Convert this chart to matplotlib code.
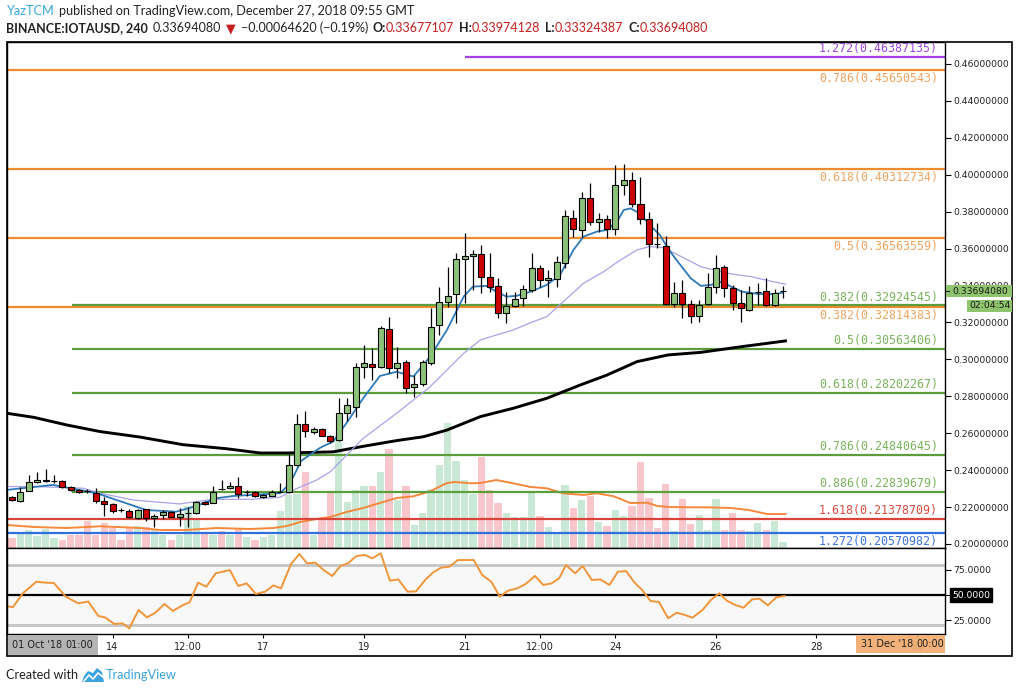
import numpy as np
import matplotlib.pyplot as plt
from matplotlib.patches import Rectangle, Polygon

# IOTAUSD 4h candles, index k -> Dec 12 00:00 + k*4h (x axis in days = k/6)
opens = [0.2253, 0.2235, 0.2287, 0.2334, 0.2343, 0.2341, 0.2343, 0.2309, 0.2293, 0.2289,
         0.2275, 0.2233, 0.2215, 0.2184, 0.2180, 0.2141, 0.2188, 0.2139, 0.2157, 0.2175,
         0.2146, 0.2166, 0.2166, 0.2226, 0.2224, 0.2298, 0.2302, 0.2314, 0.2280, 0.2280,
         0.2253, 0.2262, 0.2283, 0.2283, 0.2428, 0.2648, 0.2605, 0.2621, 0.2585, 0.2563,
         0.2708, 0.2744, 0.2957, 0.2973, 0.2961, 0.3163, 0.2952, 0.2988, 0.2849, 0.2865,
         0.2979, 0.3186, 0.3313, 0.3354, 0.3542, 0.3560, 0.3571, 0.3448, 0.3397, 0.3250,
         0.3289, 0.3330, 0.3376, 0.3493, 0.3430, 0.3437, 0.3520, 0.3764, 0.3700, 0.3873,
         0.3746, 0.3759, 0.3705, 0.3945, 0.3972, 0.3840, 0.3759, 0.3627, 0.3616, 0.3300,
         0.3362, 0.3300, 0.3235, 0.3300, 0.3390, 0.3499, 0.3385, 0.3307, 0.3268, 0.3365,
         0.3372, 0.3295, 0.3368]
highs = [0.2258, 0.2307, 0.2374, 0.2392, 0.2404, 0.2374, 0.2345, 0.2315, 0.2296, 0.2300,
         0.2302, 0.2256, 0.2222, 0.2195, 0.2190, 0.2190, 0.2192, 0.2165, 0.2182, 0.2178,
         0.2193, 0.2202, 0.2232, 0.2232, 0.2316, 0.2347, 0.2334, 0.2365, 0.2292, 0.2288,
         0.2270, 0.2290, 0.2329, 0.2488, 0.2703, 0.2720, 0.2632, 0.2630, 0.2590, 0.2789,
         0.2789, 0.2982, 0.3078, 0.3060, 0.3181, 0.3231, 0.3066, 0.2995, 0.2916, 0.2995,
         0.3277, 0.3394, 0.3502, 0.3575, 0.3683, 0.3593, 0.3620, 0.3575, 0.3439, 0.3367,
         0.3367, 0.3403, 0.3575, 0.3511, 0.3484, 0.3560, 0.3809, 0.3809, 0.3909, 0.3954,
         0.3791, 0.3782, 0.4053, 0.4059, 0.4017, 0.3990, 0.3800, 0.3737, 0.3668, 0.3421,
         0.3430, 0.3322, 0.3322, 0.3466, 0.3566, 0.3511, 0.3403, 0.3376, 0.3398, 0.3416,
         0.3439, 0.3379, 0.3397]
lows = [0.2232, 0.2230, 0.2285, 0.2330, 0.2338, 0.2329, 0.2305, 0.2288, 0.2275, 0.2275,
        0.2220, 0.2152, 0.2170, 0.2175, 0.2140, 0.2138, 0.2125, 0.2090, 0.2135, 0.2145,
        0.2098, 0.2094, 0.2160, 0.2213, 0.2220, 0.2294, 0.2298, 0.2248, 0.2262, 0.2252,
        0.2250, 0.2258, 0.2280, 0.2275, 0.2425, 0.2581, 0.2596, 0.2583, 0.2545, 0.2556,
        0.2668, 0.2690, 0.2898, 0.2888, 0.2955, 0.2925, 0.2898, 0.2820, 0.2798, 0.2855,
        0.2970, 0.3132, 0.3286, 0.3195, 0.3304, 0.3376, 0.3358, 0.3367, 0.3222, 0.3199,
        0.3285, 0.3289, 0.3367, 0.3394, 0.3340, 0.3394, 0.3493, 0.3661, 0.3661, 0.3728,
        0.3692, 0.3658, 0.3674, 0.3891, 0.3826, 0.3733, 0.3553, 0.3604, 0.3295, 0.3286,
        0.3222, 0.3199, 0.3204, 0.3295, 0.3361, 0.3340, 0.3268, 0.3204, 0.3262, 0.3295,
        0.3290, 0.3290, 0.3332]
closes = [0.2238, 0.2283, 0.2334, 0.2347, 0.2345, 0.2343, 0.2309, 0.2293, 0.2280, 0.2287,
          0.2233, 0.2217, 0.2179, 0.2183, 0.2145, 0.2184, 0.2139, 0.2150, 0.2175, 0.2148,
          0.2161, 0.2167, 0.2226, 0.2217, 0.2283, 0.2297, 0.2314, 0.2271, 0.2281, 0.2258,
          0.2265, 0.2280, 0.2284, 0.2428, 0.2648, 0.2614, 0.2621, 0.2587, 0.2560, 0.2708,
          0.2753, 0.2957, 0.2979, 0.2961, 0.3168, 0.2952, 0.2979, 0.2843, 0.2865, 0.2984,
          0.3174, 0.3313, 0.3345, 0.3542, 0.3560, 0.3571, 0.3448, 0.3394, 0.3250, 0.3289,
          0.3325, 0.3380, 0.3493, 0.3430, 0.3443, 0.3526, 0.3777, 0.3705, 0.3873, 0.3746,
          0.3759, 0.3705, 0.3945, 0.3972, 0.3840, 0.3759, 0.3625, 0.3625, 0.3300, 0.3358,
          0.3300, 0.3235, 0.3295, 0.3390, 0.3493, 0.3385, 0.3307, 0.3277, 0.3358, 0.3367,
          0.3295, 0.3362, 0.33694080]
volume = [10, 15, 18, 12, 19, 10, 8, 13, 13, 27, 13, 25, 20, 8, 20, 22, 21, 18, 13, 8,
          13, 42, 28, 16, 13, 17, 13, 19, 11, 8, 11, 13, 37, 53, 54, 76, 13, 28, 55, 108,
          46, 58, 62, 62, 76, 99, 48, 62, 23, 35, 59, 83, 125, 87, 68, 54, 91, 58, 45, 35,
          31, 31, 56, 32, 21, 15, 63, 40, 48, 52, 26, 22, 38, 32, 42, 86, 50, 20, 64, 17,
          49, 24, 33, 18, 49, 18, 35, 18, 17, 25, 18, 27, 6]

# indicator readings (candle index, value)
ema_k = [-0.6, 4.9, 10.1, 16, 19.6, 22, 24.4, 26.4, 32, 33.2, 34.5, 36.8, 38.3, 39.9, 41.9,
         43.9, 45.9, 47.9, 49.9, 51.9, 53.9, 55, 56.6, 57.8, 59, 60.2, 61.9, 63.8, 65.4, 67,
         68.2, 69.8, 71, 72.2, 73, 73.8, 74.9, 76.1, 77.3, 78.3, 79, 81, 82.2, 83.4, 84.7,
         85.8, 87.1, 89.1, 91.1, 92]
ema_v = [0.2293, 0.2320, 0.2275, 0.2184, 0.2175, 0.2206, 0.2248, 0.2260, 0.2275, 0.2330,
         0.2450, 0.2522, 0.2554, 0.2654, 0.2789, 0.2910, 0.2933, 0.2907, 0.3015, 0.3159,
         0.3340, 0.3394, 0.3398, 0.3367, 0.3340, 0.3344, 0.3367, 0.3403, 0.3457, 0.3593,
         0.3665, 0.3692, 0.3701, 0.3746, 0.3809, 0.3818, 0.3791, 0.3728, 0.3674, 0.3600,
         0.3556, 0.3439, 0.3398, 0.3403, 0.3421, 0.3394, 0.3367, 0.3354, 0.3354, 0.3362]
sma_k = [-0.6, 3, 8.5, 10.5, 14.5, 20, 24, 28.4, 32, 33.6, 36.4, 38, 41.9, 45.9, 49.9, 53.9,
         55.9, 57.8, 59.8, 61.9, 63.8, 65.8, 68.2, 70.6, 72.6, 74.6, 76.1, 77.7, 79.9, 82.2,
         83.8, 85.8, 88.2, 90.2, 92.3]
sma_v = [0.2311, 0.2311, 0.2302, 0.2275, 0.2238, 0.2217, 0.2242, 0.2242, 0.2253, 0.2293,
         0.2347, 0.2392, 0.2572, 0.2708, 0.2852, 0.3033, 0.3105, 0.3132, 0.3159, 0.3199,
         0.3231, 0.3313, 0.3412, 0.3475, 0.3538, 0.3593, 0.3611, 0.3606, 0.3556, 0.3502,
         0.3484, 0.3463, 0.3448, 0.3427, 0.3407]
slow_k = [-0.6, 2.6, 6.5, 10.5, 15.3, 20.4, 25.6, 29.6, 32.8, 38.3, 41.9, 45.9, 49.1, 51.9,
          55.9, 59.8, 63.8, 67.8, 71, 74.6, 78.3, 82.2, 87.1, 92.3]
slow_v = [0.2708, 0.2686, 0.2645, 0.2609, 0.2579, 0.2538, 0.2516, 0.2493, 0.2493, 0.2499,
          0.2529, 0.2560, 0.2581, 0.2617, 0.2690, 0.2735, 0.2789, 0.2861, 0.2915, 0.2988,
          0.3024, 0.3038, 0.3069, 0.3100]
vma_k = [-0.6, 2.6, 6.5, 10.5, 15.3, 17.7, 20.8, 24.4, 28.4, 31.2, 32.8, 34.4, 36.8, 38,
         39.9, 41.9, 43.9, 45.9, 47.9, 49.9, 51.9, 52.9, 54.7, 55.9, 57.8, 59.8, 61.9, 63.8,
         65.8, 68.2, 69.8, 71.8, 73.8, 75.8, 77, 78.5, 81, 83, 85.8, 87.9, 90.1, 92.3]
vma_v = [23, 21, 20, 21.7, 20, 18, 18, 20, 19, 20, 22, 26, 29.7, 31, 36, 40, 45, 50, 51.7,
         56.7, 65, 66, 64.7, 65, 68, 64.7, 61, 59.7, 54.7, 53, 54.7, 51.7, 45, 45.3, 42, 41,
         40.7, 40.7, 40, 38, 34, 34]
rsi_k = [-0.65, 0.1, 1.3, 2.9, 4, 5, 6.4, 7.9, 9.1, 10.3, 11.1, 12.2, 13.2, 14, 15.1, 16.1,
         17.1, 18.2, 19.2, 20.4, 21.2, 22.2, 23.2, 24.3, 26, 27, 28, 29.1, 30.2, 31.2, 32.1,
         33.3, 34.3, 35.2, 36.2, 37.2, 38.2, 39.2, 40.1, 41.1, 42.1, 43, 44, 45.1, 46.1, 47.2,
         48.2, 49.3, 50.2, 51.2, 52.2, 53.2, 55.1, 56.1, 57.2, 58.2, 59.2, 60.3, 61.3, 62.4,
         63.4, 64.4, 65.3, 66.1, 67.2, 68.1, 69.2, 70.2, 71.3, 72.3, 73.3, 74.2, 75.2, 76.2,
         77.2, 78.3, 79.3, 80.3, 81.2, 82.4, 83.4, 84.4, 85.3, 86.3, 87.3, 88.3, 89.2, 90.2,
         91.2, 92.2]
rsi_v = [39.1, 37.9, 51.7, 63.1, 62.2, 61.8, 48.4, 41.8, 43.5, 29.3, 27.9, 21.4, 22, 17.1,
         35.2, 27.9, 32.5, 41.1, 34.2, 40.1, 42.8, 62.2, 58.2, 71.4, 74.6, 58.9, 61.5, 51,
         53.3, 59.5, 56.6, 80.6, 90.5, 81.3, 81.9, 74.6, 68.8, 78.6, 81.3, 88.5, 89.5, 86.2,
         91.2, 64.1, 65.4, 53.3, 53.6, 64.8, 72, 77, 78, 84.5, 84.5, 69.8, 63.1, 48.4, 54.3,
         56.6, 60.9, 68.8, 59.9, 61.5, 66.5, 79.6, 71.4, 78.6, 64.8, 65.4, 59.9, 73, 73.6,
         63.1, 54.9, 44.1, 43.1, 27, 32.5, 30.3, 27.6, 35.2, 45.1, 51.7, 44.4, 40.1, 37.5,
         45.7, 46.4, 39.8, 47.7, 49]

# fibonacci levels
fib_levels = [0.46387135, 0.45650543, 0.40312734, 0.36563559, 0.32814383,
              0.32924545, 0.30563406, 0.28202267, 0.24840645, 0.22839679,
              0.21378709, 0.20570982]
fib_ratios = ["1.272", "0.786", "0.618", "0.5", "0.382",
              "0.382", "0.5", "0.618", "0.786", "0.886",
              "1.618", "1.272"]
fib_group = ["ext", "ret", "ret", "ret", "ret",
             "sup", "sup", "sup", "sup", "sup",
             "red", "blue"]

time_ticks = [2, 3.5, 5, 7, 9, 10.5, 12, 14, 16, 18]
time_labels = ["14", "12:00", "17", "19", "21", "12:00", "24", "26", "28", "30"]

# ---------------------------------------------------------------
W, H = 1020, 693
fig = plt.figure(figsize=(10.2, 6.93), dpi=100)
fig.patch.set_facecolor("white")

PL, PR = 7, 945          # pane left / right (px)
MT, MB = 42, 548         # main pane top / bottom
RB, TB = 634, 656        # rsi bottom, time strip bottom
FR = 1012


def rect(px0, py0, px1, py1):
    return [px0 / W, 1 - py1 / H, (px1 - px0) / W, (py1 - py0) / H]


ax = fig.add_axes(rect(PL, MT, PR, MB))
axv = ax.twinx()
axr = fig.add_axes(rect(PL, MB, PR, RB), sharex=ax)

axv.set_zorder(ax.get_zorder() - 1)
ax.patch.set_visible(False)
axv.set_axis_off()

t = np.arange(len(closes)) / 6.0
o = np.array(opens); c = np.array(closes)
up = c >= o

XMIN, XMAX = (PL - 12) / 50.28, (PR - 12) / 50.28
ax.set_xlim(XMIN, XMAX)
ax.set_ylim(0.19783, 0.4719)
axv.set_ylim(0, 506)

# volume + volume MA
axv.bar(t, volume, width=0.145, color=np.where(up, "#c9e8d6", "#f8c7cc"), linewidth=0)
axv.plot(np.array(vma_k) / 6, vma_v, color="#f5883a", lw=1.4)

# fib lines
GREEN_X0 = (72 - 12) / 50.28
EXT_X0 = (465 - 12) / 50.28
LABEL_X = (938 - 12) / 50.28
styles = {
    "ext": ("#a53ee6", "#9b45e0", EXT_X0, 1),
    "ret": ("#ef8a2e", "#f0a35e", XMIN, -1),
    "sup": ("#5c9e3c", "#7ab35c", GREEN_X0, 1),
    "red": ("#d9433a", "#d94a3e", XMIN, 1),
    "blue": ("#2f6fe0", "#3b74da", XMIN, -1),
}
for lvl, ratio, grp in zip(fib_levels, fib_ratios, fib_group):
    lc, tc, x0, side = styles[grp]
    ax.hlines(lvl, x0, XMAX, color=lc, lw=1.6, zorder=2)
    ax.annotate(f"{ratio}({lvl:.8f})", xy=(LABEL_X, lvl), xytext=(0, 1.2 * side),
                textcoords="offset points", ha="right",
                va="bottom" if side > 0 else "top",
                color=tc, fontsize=8.4, family="DejaVu Sans Mono", zorder=3)

# moving averages
ax.plot(np.array(slow_k) / 6, slow_v, color="black", lw=2.1, zorder=3)
ax.plot(np.array(sma_k) / 6, sma_v, color="#a7a3e6", lw=0.9, zorder=3)
ax.plot(np.array(ema_k) / 6, ema_v, color="#2e7ab8", lw=1.3, zorder=4)

# candles
ax.vlines(t, lows, highs, color="black", lw=0.9, zorder=5)
ax.bar(t, np.abs(c - o), bottom=np.minimum(o, c), width=0.12,
       color=np.where(up, "#8cc37a", "#cc0000"), edgecolor="black", lw=0.8, zorder=6)

# price axis
ax.yaxis.tick_right()
ax.set_yticks(np.round(np.arange(0.20, 0.4601, 0.02), 2))
ax.set_yticklabels([f"{v:.8f}" for v in np.arange(0.20, 0.4601, 0.02)])
ax.tick_params(axis="y", direction="out", length=4, width=0.8, pad=2,
               labelsize=6.7, labelcolor="#222222")
ax.tick_params(axis="x", length=0, labelbottom=False)
for s in ax.spines.values():
    s.set_linewidth(1.0)

# RSI pane
axr.set_ylim(11.5, 96.4)
axr.axhspan(20, 80, color="#f8f8f8", zorder=0)
axr.axhline(80, color="#c4c4c4", lw=2)
axr.axhline(20, color="#c4c4c4", lw=2)
axr.axhline(50, color="black", lw=1.6)
axr.plot(np.array(rsi_k) / 6, rsi_v, color="#f0953a", lw=1.4)
axr.yaxis.tick_right()
axr.set_yticks([25, 50, 75])
axr.set_yticklabels(["25.0000", "", "75.0000"])
axr.tick_params(axis="y", direction="out", length=4, width=0.8, pad=2,
                labelsize=6.7, labelcolor="#222222")
axr.annotate("50.0000", xy=(1, 50), xycoords=("axes fraction", "data"),
             xytext=(5, 0), textcoords="offset points", va="center", ha="left",
             fontsize=6.7, color="white",
             bbox=dict(boxstyle="square,pad=0.25", fc="black", ec="black"))
axr.set_xticks(time_ticks)
axr.set_xticklabels(time_labels)
axr.tick_params(axis="x", direction="out", length=3, width=0.8, pad=3,
                labelsize=7, labelcolor="#222222")
for s in axr.spines.values():
    s.set_linewidth(1.0)

# overlay in pixel coordinates for frame, header and boxes
ov = fig.add_axes([0, 0, 1, 1], zorder=10)
ov.set_xlim(0, W)
ov.set_ylim(H, 0)
ov.set_axis_off()
ov.patch.set_visible(False)

ov.add_patch(Rectangle((PL, MT), FR - PL, TB - MT, fill=False, ec="black", lw=1.2))

# time strip boxes
ov.add_patch(Rectangle((PL + 1, RB + 1), 90, TB - RB - 2, fc="#b4b4b4", ec="none"))
ov.text(12, 645, "01 Oct '18", fontsize=7, color="#222222", va="center")
ov.text(65, 645, "01:00", fontsize=7, color="#222222", va="center")
ov.add_patch(Rectangle((856, RB + 1), PR - 856, TB - RB - 4, fc="#f0ab6c", ec="none", alpha=0.92))
ov.text(861, 644, "31 Dec '18", fontsize=7, color="#222222", va="center")
ov.text(916, 644, "00:00", fontsize=7, color="#222222", va="center")

# last price + countdown
ov.add_patch(Rectangle((PR + 1, 285), FR - PR - 1, 12, fc="#8ec46e", ec="none"))
ov.plot([PR, PR + 4], [291, 291], color="#222222", lw=0.8)
ov.text(952, 291, "0.33694080", fontsize=6.7, color="#1a1a1a", va="center")
ov.add_patch(Rectangle((967, 300), FR - 967, 12, fc="#8ec46e", ec="none"))
ov.text(990, 306, "02:04:54", fontsize=6.7, color="#1a1a1a", va="center", ha="center")


def text_row(pieces, x0, y, target_w, size=10):
    r = fig.canvas.get_renderer()
    fam = ["Lato", "DejaVu Sans"]
    for attempt in range(2):
        x = x0
        arts = []
        for s, col, wt, gap in pieces:
            a = ov.text(x, y, s, color=col, fontsize=size, fontweight=wt,
                        family=fam, va="center", ha="left")
            arts.append(a)
            x += a.get_window_extent(r).width + gap
        if attempt == 0:
            for a in arts:
                a.remove()
            size *= target_w / (x - x0)


DARK = "#222222"
RED = "#c41e1e"
text_row([("YazTCM", "#35a8e0", "normal", 4),
          ("published on TradingView.com, December 27, 2018 09:55 GMT", DARK, "normal", 0)],
         7, 11, 406)
text_row([("BINANCE:IOTAUSD, 240", DARK, "bold", 5),
          ("0.33694080", DARK, "normal", 5),
          ("\u25bc", RED, "normal", 5),
          ("\u22120.00064620 (\u22120.19%)", DARK, "normal", 4),
          ("O:", DARK, "bold", 0), ("0.33677107", RED, "normal", 5),
          ("H:", DARK, "bold", 0), ("0.33974128", RED, "normal", 5),
          ("L:", DARK, "bold", 0), ("0.33324387", RED, "normal", 5),
          ("C:", DARK, "bold", 0), ("0.33694080", RED, "normal", 0)],
         6, 28, 697)

# footer
text_row([("Created with", DARK, "normal", 0)], 6, 675, 72)
ov.add_patch(Polygon([(82, 682), (84, 676), (88, 671), (93, 673), (97, 668), (102, 672),
                      (104, 682)], closed=True, fc="#3ba4e0", ec="none"))
ov.plot([84, 89, 93, 98, 103], [681, 675, 679, 673, 677], color="white", lw=1.2)
text_row([("TradingView", "#3ba4e0", "normal", 0)], 106, 675, 71)

fig.savefig("out.png", dpi=100)
